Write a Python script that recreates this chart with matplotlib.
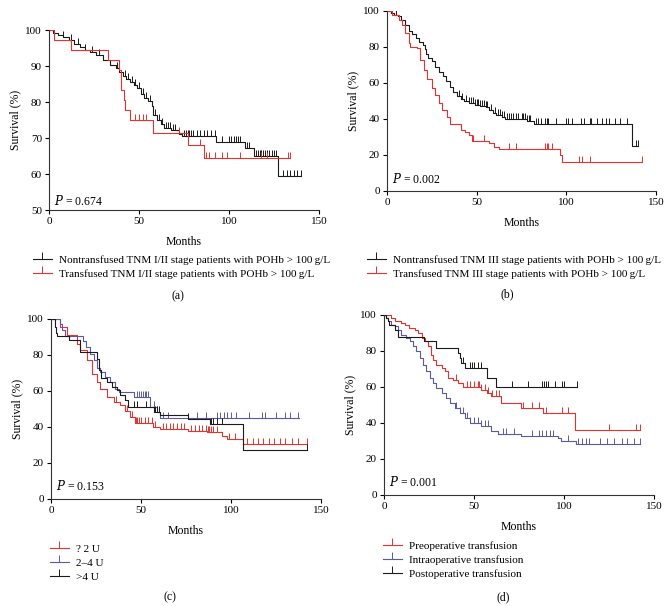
import numpy as np
import matplotlib
matplotlib.use("Agg")
import matplotlib.pyplot as plt
from matplotlib.lines import Line2D

plt.rcParams['font.family'] = ['Liberation Serif', 'DejaVu Serif']
plt.rcParams['font.size'] = 8

RED = "#e3332f"
BLUE = "#5b5b9c"
BLACK = "#1a1a1a"

# ---- (a) TNM I/II
a_black_t = [0, 2, 5, 8, 11, 14, 17, 20, 23, 26, 30, 34, 37, 39, 41, 43, 45, 47, 49, 51, 53, 55, 57, 58, 60, 62, 64, 68, 72, 74, 93, 109, 114, 127]
a_black_s = [100, 99.2, 98.6, 98.0, 97.2, 96.0, 95.2, 94.4, 93.8, 93.0, 91.8, 90.2, 89.5, 88.4, 87.2, 86.5, 85.6, 84.8, 83.8, 82.2, 81.0, 80.2, 79.0, 76.5, 75.0, 73.8, 72.8, 72.2, 71.2, 70.5, 69.0, 67.3, 65.0, 59.5]
a_black_end = 140
a_black_c = [3, 8, 12, 16, 20, 24, 28, 33, 38, 42, 44, 46, 48, 50, 52, 54, 56, 59, 61, 63, 65, 66, 67, 69, 70, 72, 75, 76, 77, 78, 79, 80, 82, 84, 86, 88, 90, 92, 96, 100, 101, 103, 104, 105, 106, 110, 111, 115, 116, 117, 118, 119, 120, 121, 122, 124, 125, 126, 130, 132, 134, 136, 138, 140]
a_red_t = [0, 2.5, 12, 33, 39, 40, 41.5, 42, 45, 58, 77, 86]
a_red_s = [100, 97.2, 94.4, 91.7, 88.9, 83.3, 80.5, 77.8, 75.0, 71.4, 68.0, 64.4]
a_red_end = 134
a_red_c = [1, 48, 50, 52, 54, 72, 84, 87, 89, 92, 96, 99, 106, 118, 121, 133, 134]

# ---- (b) TNM III
b_black_t = [0, 2, 4, 6, 8, 10, 12, 14, 16, 18, 20, 21, 22, 23, 25, 27, 29, 31, 33, 35, 37, 39, 41, 43, 46, 49, 52, 55, 57, 59, 61, 64, 66, 78, 82, 136.5]
b_black_s = [100, 99, 98, 97, 95, 92, 89, 87, 85, 83, 81, 79, 76, 74, 72, 69, 66, 64, 61, 58, 55, 53, 51, 50, 49, 48, 47, 46.5, 45, 43.5, 42, 41, 40, 39, 37.3, 25]
b_black_end = 140
b_black_c = [3, 5, 40, 42, 44, 46, 47, 48, 49, 50, 51, 52, 53, 54, 55, 56, 58, 60, 62, 63, 64, 65, 67, 68, 69, 70, 72, 73, 75, 76, 77, 78, 79, 80, 83, 84, 86, 88, 89, 90, 94, 100, 101, 103, 108, 110, 113, 114, 117, 120, 122, 124, 127, 130, 134, 139, 140]
b_red_t = [0, 2.8, 6.5, 8.4, 10, 12, 13, 16.7, 18.6, 20.4, 22.3, 25, 27, 28.8, 30.7, 33.5, 35.3, 41, 43.7, 45.5, 47.4, 56.7, 59.5, 62.3, 96.6, 97.6]
b_red_s = [100, 98, 95, 92, 88, 82, 80, 79.4, 73, 67, 62, 57, 53.6, 49, 45, 41, 37.5, 34, 33, 31, 28, 26.5, 24.7, 23.4, 20, 16]
b_red_end = 142
b_red_c = [1, 48, 54, 68, 72, 88, 89, 90, 92, 107, 109, 113, 142]

# ---- (c) units transfused
c_red_t = [0, 5.2, 8.9, 14.4, 16.3, 20, 22.7, 25.5, 27.4, 31, 34.8, 38.4, 41.2, 44, 46.8, 56.9, 60.6, 76, 86.5, 94.8, 97.6, 106.8]
c_red_s = [100, 95.5, 91, 86, 82.6, 77, 69.6, 65, 61, 56.7, 54, 52, 49, 45.5, 42, 40, 39, 38, 37, 35, 33.5, 30.4]
c_red_end = 142
c_red_c = [1, 36, 42, 45, 47, 48, 49, 50, 52, 54, 56, 58, 62, 64, 66, 68, 70, 72, 74, 78, 80, 82, 84, 86, 87, 88, 89, 90, 92, 99, 102, 109, 112, 115, 118, 121, 124, 127, 130, 134, 137, 142]
c_blue_t = [0, 5, 6, 8, 17.6, 19.5, 21.5, 23.7, 25.5, 27.4, 30, 33, 35.7, 37.5, 46, 55, 58.8, 60.6, 66]
c_blue_s = [100, 97.4, 94, 90.6, 88, 84.4, 80.7, 77, 73, 70.5, 67.8, 65, 61, 59.4, 56.7, 51, 48.3, 45.2, 45.2]
c_blue_end = 138
c_blue_c = [48, 49, 50, 51, 52, 53, 54, 55, 57, 59, 62, 65, 81, 86, 92, 94, 96, 98, 100, 103, 110, 117, 119, 125, 130, 133, 137]
c_black_t = [0, 2, 2.6, 3.3, 10, 16, 25.5, 26.5, 28, 31, 34, 36.6, 38.4, 41, 43, 57, 60.6, 76, 88.4, 106.8]
c_black_s = [100, 95.5, 92, 90.6, 88.5, 81.5, 78, 71.5, 67, 65, 62, 60.4, 57.6, 54.8, 51, 48.3, 46.5, 44.6, 41.9, 27.4]
c_black_end = 142
c_black_c = [46, 48, 53, 58, 59, 60, 76, 89, 90, 92, 95, 142]

# ---- (d) timing of transfusion
d_red_t = [0, 4, 6, 9.6, 11.5, 14, 17, 19, 21, 22.6, 24.4, 26, 27, 29, 32, 33.7, 35.6, 38.3, 41, 44, 54, 57, 59.6, 65, 76, 88.3, 106]
d_red_s = [100, 98.3, 96.5, 95.5, 94.6, 92.8, 91.8, 90, 87, 85.4, 82.6, 78, 75, 72.4, 70.5, 68.7, 65, 64, 62.2, 60, 58.5, 56.7, 54.8, 51, 48.3, 45.5, 36.3]
d_red_end = 142
d_red_c = [40, 46, 48, 50, 52, 53, 54, 56, 58, 60, 62, 64, 77, 82, 86, 90, 99, 102, 125, 140, 142]
d_blue_t = [0, 1.3, 2.2, 4, 6, 7.8, 9.6, 12.4, 14.3, 16, 18, 20, 21.7, 23.5, 25.4, 27, 29, 32, 34.6, 36.5, 39.3, 42, 44.8, 47.6, 54, 59.6, 63.3, 76, 96.7, 98.5, 106.8]
d_blue_s = [100, 98.3, 96.5, 94.6, 93.7, 91.8, 89, 87, 85.4, 82.6, 80, 76, 72.4, 68.7, 65, 62, 59.4, 56.7, 54, 51, 48.3, 45.5, 42.8, 40, 38.1, 35.4, 33.9, 33, 31.7, 29.8, 28.5]
d_blue_end = 142
d_blue_c = [40, 42, 44, 46, 48, 50, 52, 54, 56, 58, 66, 68, 72, 82, 86, 88, 90, 92, 94, 102, 108, 110, 112, 114, 120, 124, 128, 132, 135, 139, 142]
d_black_t = [0, 1.3, 2.2, 3, 6, 7.8, 22, 29, 41, 42, 43, 45, 46.5, 57, 62]
d_black_s = [100, 98.3, 96.5, 94.6, 91.8, 88, 85.4, 81.7, 79, 76, 73.3, 70.5, 70.5, 65, 60]
d_black_end = 107
d_black_c = [44, 48, 49, 50, 52, 54, 71, 80, 88, 89, 90, 91, 95, 99, 100, 107]


def km(ax, t, s, end, cens, color):
    tt = list(t) + [end]
    ss = list(s) + [s[-1]]
    ax.step(tt, ss, where='post', color=color, lw=0.8)
    # censor ticks sit on the step curve
    idx = np.searchsorted(np.array(t), np.array(cens), side='right') - 1
    cy = np.array(s)[idx]
    ax.plot(cens, cy, linestyle='none', marker=2, markersize=4.5,
            markeredgewidth=0.7, color=color)


def style(ax, ymin, yticks, ptxt, py):
    ax.set_xlim(0, 150)
    ax.set_ylim(ymin, 100)
    ax.set_xticks([0, 50, 100, 150])
    ax.set_yticks(yticks)
    for sp in ['top', 'right']:
        ax.spines[sp].set_visible(False)
    for sp in ['left', 'bottom']:
        ax.spines[sp].set_linewidth(0.8)
        ax.spines[sp].set_color('#333333')
    ax.tick_params(direction='out', length=3, width=0.8, labelsize=8, pad=2)
    ax.set_xlabel('Months', fontsize=8.5, labelpad=7)
    ax.set_ylabel('Survival (%)', fontsize=8.5, labelpad=3)
    ax.text(0.02, py, r'$P$ = ' + ptxt, transform=ax.transAxes, fontsize=8.5,
            va='center', ha='left', math_fontfamily='dejavuserif')


W, H = 671, 606
fig = plt.figure(figsize=(W / 100, H / 100), dpi=100)


def add_axes(x0, x1, ytop, ybot):
    return fig.add_axes([x0 / W, 1 - ybot / H, (x1 - x0) / W, (ybot - ytop) / H])


axa = add_axes(49, 319, 30, 210)
axb = add_axes(387, 656, 11, 191)
axc = add_axes(51, 321, 319, 499)
axd = add_axes(384, 654, 315, 495)

km(axa, a_black_t, a_black_s, a_black_end, a_black_c, BLACK)
km(axa, a_red_t, a_red_s, a_red_end, a_red_c, RED)
style(axa, 50, [50, 60, 70, 80, 90, 100], '0.674', 0.05)

km(axb, b_black_t, b_black_s, b_black_end, b_black_c, BLACK)
km(axb, b_red_t, b_red_s, b_red_end, b_red_c, RED)
style(axb, 0, [0, 20, 40, 60, 80, 100], '0.002', 0.065)

km(axc, c_red_t, c_red_s, c_red_end, c_red_c, RED)
km(axc, c_blue_t, c_blue_s, c_blue_end, c_blue_c, BLUE)
km(axc, c_black_t, c_black_s, c_black_end, c_black_c, BLACK)
style(axc, 0, [0, 20, 40, 60, 80, 100], '0.153', 0.075)

km(axd, d_red_t, d_red_s, d_red_end, d_red_c, RED)
km(axd, d_blue_t, d_blue_s, d_blue_end, d_blue_c, BLUE)
km(axd, d_black_t, d_black_s, d_black_end, d_black_c, BLACK)
style(axd, 0, [0, 20, 40, 60, 80, 100], '0.001', 0.07)


def handle(c):
    return Line2D([], [], color=c, lw=0.8, marker=2, markersize=5, markeredgewidth=0.7)


def legend(labels, colors, x, y):
    fig.legend([handle(c) for c in colors], labels, loc='upper left',
               bbox_to_anchor=(x / W, 1 - y / H), frameon=False, fontsize=8,
               borderpad=0, borderaxespad=0, handlelength=1.7, handletextpad=0.6,
               labelspacing=0.37)


legend(['Nontransfused TNM I/II stage patients with POHb > 100\u2009g/L',
        'Transfused TNM I/II stage patients with POHb > 100\u2009g/L'],
       [BLACK, RED], 33, 255.5)
legend(['Nontransfused TNM III stage patients with POHb > 100\u2009g/L',
        'Transfused TNM III stage patients with POHb > 100\u2009g/L'],
       [BLACK, RED], 367, 255.5)
legend(['? 2 U', '2\u20134 U', '>4 U'], [RED, BLUE, BLACK], 50, 544.5)
legend(['Preoperative transfusion', 'Intraoperative transfusion', 'Postoperative transfusion'],
       [RED, BLUE, BLACK], 383, 541.5)

for lab, x, y in [('(a)', 178, 296), ('(b)', 507, 294), ('(c)', 170, 597), ('(d)', 503, 597)]:
    fig.text(x / W, 1 - y / H, lab, ha='center', va='center', fontsize=8.5)

fig.savefig('out.png', dpi=100)
